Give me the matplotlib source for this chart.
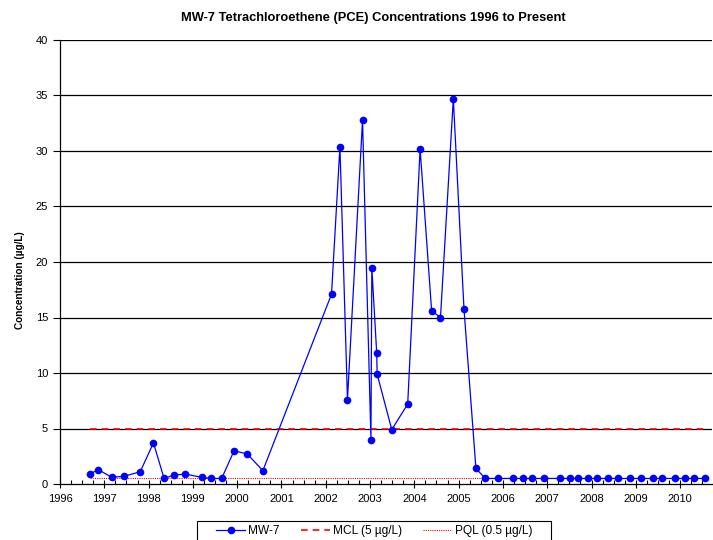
import matplotlib
matplotlib.use("Agg")
import matplotlib.pyplot as plt
from matplotlib.ticker import MultipleLocator
from matplotlib.patches import Rectangle

plt.rcParams['font.family'] = ['Liberation Sans', 'DejaVu Sans']

years = [1996.68, 1996.86, 1997.17, 1997.45, 1997.81, 1998.11, 1998.35, 1998.57, 1998.82,
         1999.20, 1999.41, 1999.65, 1999.93, 2000.23, 2000.58,
         2002.13, 2002.32, 2002.49, 2002.83, 2003.02, 2003.04, 2003.15, 2003.16, 2003.49,
         2003.85, 2004.13, 2004.39, 2004.59, 2004.88, 2005.12, 2005.39,
         2005.60, 2005.88, 2006.23, 2006.46, 2006.66, 2006.92, 2007.29, 2007.51, 2007.69,
         2007.91, 2008.12, 2008.38, 2008.59, 2008.87, 2009.12, 2009.38, 2009.58, 2009.88,
         2010.12, 2010.31, 2010.56]
pce = [0.9, 1.3, 0.6, 0.7, 1.1, 3.7, 0.5, 0.8, 0.9,
       0.6, 0.5, 0.5, 3.0, 2.7, 1.2,
       17.1, 30.4, 7.6, 32.8, 4.0, 19.5, 11.8, 9.9, 4.9,
       7.2, 30.2, 15.6, 15.0, 34.7, 15.8, 1.4,
       0.5, 0.5, 0.5, 0.5, 0.5, 0.5, 0.5, 0.5, 0.5,
       0.5, 0.5, 0.5, 0.5, 0.5, 0.5, 0.5, 0.5, 0.5,
       0.5, 0.5, 0.5]
mcl = 5.0
pql = 0.5
year_ticks = list(range(1996, 2011))
y_ticks = list(range(0, 41, 5))

fig = plt.figure(figsize=(7.13, 5.40), dpi=100)
ax = fig.add_axes([60/713, 1-484/540, 652/713, 444/540])

for yv in y_ticks[1:]:
    ax.axhline(yv, color='black', lw=0.9, zorder=1)

ax.plot(years, pce, color='blue', lw=0.9, marker='o', markersize=4.5, label='MW-7', zorder=4)
ax.plot([years[0], years[-1]], [mcl, mcl], color='red', lw=1.2, ls=(0, (4, 3)), label='MCL (5 µg/L)', zorder=3)
ax.plot([years[0], years[-1]], [pql, pql], color='red', lw=0.8, ls=(0, (1, 1)), label='PQL (0.5 µg/L)', zorder=3)

ax.set_xlim(1996, 2010.72)
ax.set_ylim(0, 40)
ax.set_xticks(year_ticks)
ax.set_xticklabels([str(y) for y in year_ticks])
ax.xaxis.set_minor_locator(MultipleLocator(0.25))
ax.set_yticks(y_ticks)
ax.tick_params(axis='both', labelsize=8, width=0.8)
ax.tick_params(axis='x', which='major', direction='inout', length=6, pad=4)
ax.tick_params(axis='x', which='minor', direction='in', length=3, width=0.8)
ax.tick_params(axis='y', direction='out', length=5, pad=3.5)
for s in ['top', 'right']:
    ax.spines[s].set_visible(False)
ax.spines['left'].set_linewidth(0.9)
ax.spines['bottom'].set_linewidth(0.9)

fig.text(20/713, 1-280/540, 'Concentration (µg/L)', rotation=90, ha='center', va='center',
         fontsize=7.2, fontweight='bold')
fig.text(373/713, 1-18/540, 'MW-7 Tetrachloroethene (PCE) Concentrations 1996 to Present',
         ha='center', va='center', fontsize=9.3, fontweight='bold')

# legend frame (extends beyond the bottom edge like the reference)
fig.patches.append(Rectangle((197/713, -10/540), (551-197)/713, (540-521+10)/540,
                             transform=fig.transFigure, fill=False, edgecolor='black',
                             lw=0.8, zorder=5))
leg = fig.legend(*ax.get_legend_handles_labels(), loc='center left',
                 bbox_to_anchor=(216/713, 1-531/540), ncol=3,
                 fontsize=8.6, frameon=False,
                 handlelength=2.45, handletextpad=0.25, columnspacing=1.75, borderpad=0,
                 borderaxespad=0)

fig.savefig('out.png', dpi=100)
